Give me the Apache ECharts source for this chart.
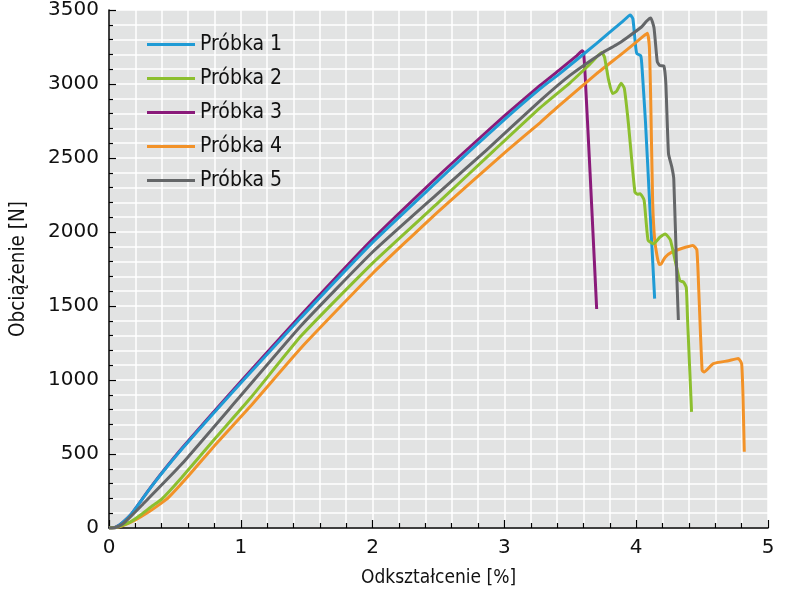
<!DOCTYPE html>
<html>
<head>
<meta charset="utf-8">
<title>Próbki</title>
<script src="https://cdn.jsdelivr.net/npm/echarts@6/dist/echarts.min.js"></script>
<style>
html, body { margin: 0; padding: 0; background: #fff; }
#chart-container { width: 800px; height: 598px; }
</style>
</head>
<body>
<div id="chart-container"></div>
<script>
// odkształcenie [%], obciążenie [N]
var probka1 = [[0,0],[0.05,5],[0.1,35],[0.17,95],[0.32,278],[0.55,530],[1.0,980],[1.46,1425],[2.0,1930],[2.5,2350],[2.74,2550],[3.0,2760],[3.27,2967],[3.42,3070],[3.7,3275],[3.9,3425],[3.955,3466],[3.975,3440],[3.995,3260],[4.005,3205],[4.035,3190],[4.045,3100],[4.07,2750],[4.1,2230],[4.14,1550]];
var probka2 = [[0,0],[0.05,3],[0.1,18],[0.17,45],[0.25,95],[0.33,150],[0.4,195],[0.55,340],[0.8,600],[1.08,885],[1.46,1300],[2.0,1790],[2.5,2200],[2.92,2550],[3.27,2839],[3.5,3010],[3.65,3135],[3.74,3212],[3.76,3180],[3.79,3030],[3.82,2935],[3.85,2950],[3.886,3005],[3.91,2970],[3.94,2740],[3.99,2270],[4.01,2255],[4.03,2258],[4.06,2215],[4.09,1945],[4.13,1920],[4.18,1965],[4.22,1987],[4.26,1945],[4.33,1672],[4.36,1661],[4.38,1625],[4.39,1403],[4.42,785]];
var probka3 = [[0,0],[0.05,5],[0.1,35],[0.17,95],[0.32,280],[0.55,535],[1.0,990],[1.46,1442],[2.0,1952],[2.5,2380],[2.74,2576],[3.0,2785],[3.27,2990],[3.42,3097],[3.55,3192],[3.59,3224],[3.6,3215],[3.61,3100],[3.65,2400],[3.70,1480]];
var probka4 = [[0,0],[0.05,3],[0.1,14],[0.2,55],[0.3,108],[0.4,170],[0.45,205],[0.6,350],[0.8,555],[1.08,830],[1.46,1220],[2.0,1720],[2.5,2140],[3.02,2550],[3.27,2738],[3.42,2858],[3.7,3070],[3.9,3210],[4.05,3320],[4.085,3343],[4.1,3250],[4.11,2900],[4.125,2200],[4.14,1950],[4.16,1830],[4.175,1780],[4.19,1785],[4.22,1830],[4.27,1864],[4.35,1890],[4.43,1909],[4.46,1880],[4.475,1600],[4.5,1066],[4.515,1054],[4.585,1111],[4.7,1130],[4.775,1145],[4.8,1110],[4.81,900],[4.82,515]];
var probka5 = [[0,0],[0.05,3],[0.1,25],[0.15,65],[0.24,145],[0.55,430],[1.0,895],[1.46,1370],[2.0,1865],[2.5,2265],[2.86,2550],[3.27,2886],[3.5,3060],[3.75,3215],[3.85,3265],[3.93,3313],[4.04,3385],[4.08,3426],[4.11,3446],[4.135,3380],[4.16,3150],[4.18,3125],[4.21,3122],[4.225,3000],[4.245,2530],[4.27,2440],[4.285,2360],[4.31,1650],[4.32,1405]];

var nazwy = ['Próbka 1', 'Próbka 2', 'Próbka 3', 'Próbka 4', 'Próbka 5'];
var kolory = ['#1f9bd5', '#8cbf2e', '#8a1a7a', '#f29228', '#646668'];
var dane = [probka1, probka2, probka3, probka4, probka5];
// kolejność rysowania (próbka 3 pod próbką 1)
var kolejnosc = [2, 0, 3, 1, 4];

var fontWaski = "'DejaVu Sans Condensed', 'Liberation Sans', sans-serif";
var fontZwykly = "'DejaVu Sans', 'Liberation Sans', sans-serif";

var myChart = echarts.init(document.getElementById('chart-container'));

var series = kolejnosc.map(function (i) {
    return {
        name: nazwy[i],
        type: 'line',
        data: dane[i],
        showSymbol: false,
        symbol: 'none',
        smooth: 0.15,
        lineStyle: { width: 3, color: kolory[i] },
        itemStyle: { color: kolory[i] }
    };
});

myChart.setOption({
    animation: false,
    textStyle: { fontFamily: fontWaski },
    grid: {
        left: 108, right: 32, top: 9, bottom: 70,
        show: true,
        backgroundColor: '#e2e3e3',
        borderWidth: 0
    },
    legend: {
        orient: 'vertical',
        left: 142,
        top: 29,
        itemWidth: 48,
        itemHeight: 3,
        itemGap: 13,
        icon: 'rect',
        textStyle: { fontFamily: fontWaski, fontSize: 21, color: '#111' },
        data: nazwy
    },
    xAxis: {
        type: 'value',
        min: 0, max: 5, interval: 1,
        name: 'Odkształcenie [%]',
        nameLocation: 'middle',
        nameGap: 41,
        nameTextStyle: { fontFamily: fontWaski, fontSize: 19, color: '#111' },
        axisLine: { show: true, lineStyle: { color: '#000', width: 1.5 } },
        axisTick: { show: true, inside: true, length: 8, lineStyle: { color: '#000', width: 1.2 } },
        minorTick: { show: true, splitNumber: 5, length: 5, lineStyle: { color: '#000', width: 1.2 } },
        axisLabel: { fontFamily: fontZwykly, fontSize: 20, color: '#111', margin: 10 },
        splitLine: { show: true, lineStyle: { color: '#fff', width: 1.5 } },
        minorSplitLine: { show: true, lineStyle: { color: '#fff', width: 1.5 } }
    },
    yAxis: {
        type: 'value',
        min: 0, max: 3500, interval: 500,
        name: 'Obciążenie [N]',
        nameLocation: 'middle',
        nameGap: 80,
        nameTextStyle: { fontFamily: fontWaski, fontSize: 20.5, color: '#111' },
        axisLine: { show: true, lineStyle: { color: '#000', width: 1.5 } },
        axisTick: { show: true, inside: true, length: 7, lineStyle: { color: '#000', width: 1.2 } },
        minorTick: { show: true, splitNumber: 5, length: 4, lineStyle: { color: '#000', width: 1.2 } },
        axisLabel: {
            fontFamily: fontZwykly, fontSize: 20, color: '#111', margin: 10,
            formatter: function (v) { return String(v); }
        },
        splitLine: { show: true, lineStyle: { color: '#fff', width: 1.5 } },
        minorSplitLine: { show: true, lineStyle: { color: '#fff', width: 1.5 } }
    },
    series: series
});
</script>
</body>
</html>
